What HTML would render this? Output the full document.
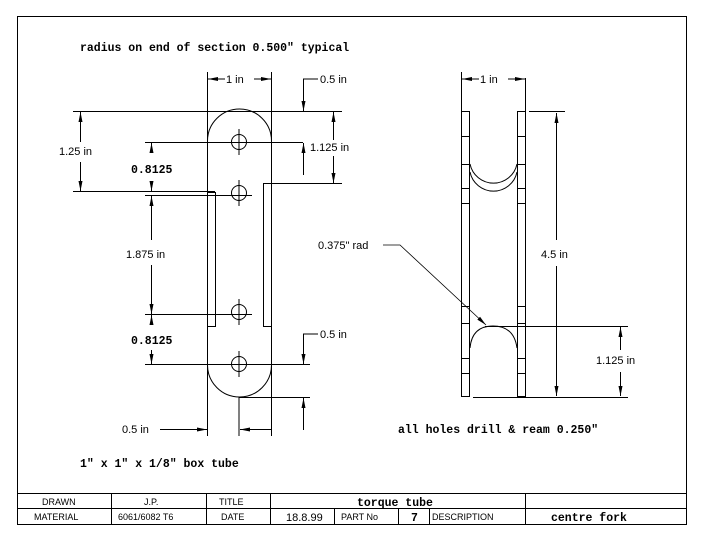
<!DOCTYPE html>
<html><head><meta charset="utf-8"><style>
html,body{margin:0;padding:0;background:#fff;width:701px;height:542px;overflow:hidden}
svg{display:block}
text{font-family:"Liberation Sans",sans-serif;font-size:11px;fill:#000}
.b{font-family:"Liberation Mono",monospace;font-weight:bold;font-size:11.5px}
.s{font-size:9px}
</style></head><body>
<svg width="701" height="542" viewBox="0 0 701 542" xmlns="http://www.w3.org/2000/svg">
<defs>
<marker id="a" viewBox="0 0 10 6" refX="10" refY="3" markerWidth="10" markerHeight="6" orient="auto" markerUnits="userSpaceOnUse"><path d="M0,1 L10,3 L0,5 Z" fill="#000"/></marker>
</defs>
<g stroke="#000" stroke-width="1" fill="none">
<rect x="17.5" y="16.5" width="669" height="508"/>
<!-- title block -->
<line x1="17" y1="493.5" x2="686" y2="493.5"/>
<line x1="17" y1="508.5" x2="686" y2="508.5"/>
<line x1="111.5" y1="493" x2="111.5" y2="524"/>
<line x1="206.5" y1="493" x2="206.5" y2="524"/>
<line x1="270.5" y1="493" x2="270.5" y2="524"/>
<line x1="525.5" y1="493" x2="525.5" y2="524"/>
<line x1="334.5" y1="508" x2="334.5" y2="524"/>
<line x1="398.5" y1="508" x2="398.5" y2="524"/>
<line x1="429.5" y1="508" x2="429.5" y2="524"/>

<!-- LEFT PART -->
<path d="M207.5,397 L207.5,141 A32,32 0 0 1 271.5,141 L271.5,365 A32,32 0 0 1 207.5,365"/>
<rect x="207.5" y="192.5" width="8" height="134"/>
<rect x="263.5" y="183.5" width="8" height="143"/>
<circle cx="239" cy="142" r="7.5"/><circle cx="239" cy="193" r="7.5"/>
<circle cx="239" cy="312" r="7.5"/><circle cx="239" cy="364" r="7.5"/>
<line x1="239" y1="129" x2="239" y2="155"/><line x1="239" y1="180" x2="239" y2="206"/>
<line x1="239" y1="299" x2="239" y2="325"/><line x1="239" y1="351" x2="239" y2="377"/>
<line x1="239" y1="397" x2="239" y2="436"/>
<!-- extension lines -->
<line x1="207.5" y1="72" x2="207.5" y2="436"/>
<line x1="271.5" y1="72" x2="271.5" y2="436"/>
<line x1="73" y1="111.5" x2="342" y2="111.5"/>
<line x1="73" y1="191.5" x2="215" y2="191.5"/>
<line x1="263" y1="183.5" x2="342" y2="183.5"/>
<line x1="145" y1="142.5" x2="303" y2="142.5"/>
<line x1="145" y1="195.5" x2="252" y2="195.5"/>
<line x1="145" y1="314.5" x2="252" y2="314.5"/>
<line x1="145" y1="364.5" x2="310" y2="364.5"/>
<line x1="239" y1="397.5" x2="310" y2="397.5"/>
<!-- 1 in top -->
<line x1="225" y1="79" x2="208" y2="79" marker-end="url(#a)"/>
<line x1="254" y1="79" x2="271" y2="79" marker-end="url(#a)"/>
<!-- 1.25 in -->
<line x1="80.5" y1="142" x2="80.5" y2="112" marker-end="url(#a)"/>
<line x1="80.5" y1="162" x2="80.5" y2="191" marker-end="url(#a)"/>
<!-- 0.8125 upper -->
<line x1="151.5" y1="152" x2="151.5" y2="143" marker-end="url(#a)"/>
<line x1="151.5" y1="182" x2="151.5" y2="191" marker-end="url(#a)"/>
<!-- 1.875 -->
<line x1="151.5" y1="240" x2="151.5" y2="196" marker-end="url(#a)"/>
<line x1="151.5" y1="265" x2="151.5" y2="314" marker-end="url(#a)"/>
<!-- 0.8125 lower -->
<line x1="151.5" y1="324" x2="151.5" y2="315" marker-end="url(#a)"/>
<line x1="151.5" y1="350" x2="151.5" y2="364" marker-end="url(#a)"/>
<!-- 0.5 in top right -->
<polyline points="318,79 303.5,79 303.5,111" marker-end="url(#a)"/>
<line x1="303.5" y1="175" x2="303.5" y2="143" marker-end="url(#a)"/>
<!-- 1.125 -->
<line x1="333.5" y1="140" x2="333.5" y2="112" marker-end="url(#a)"/>
<line x1="333.5" y1="156" x2="333.5" y2="183" marker-end="url(#a)"/>
<!-- 0.5 bottom right -->
<polyline points="318,334 303.5,334 303.5,364" marker-end="url(#a)"/>
<line x1="303.5" y1="430" x2="303.5" y2="398" marker-end="url(#a)"/>
<!-- 0.5 bottom -->
<line x1="160" y1="429.5" x2="207" y2="429.5" marker-end="url(#a)"/>
<line x1="272" y1="429.5" x2="240" y2="429.5" marker-end="url(#a)"/>

<!-- RIGHT PART -->
<rect x="461.5" y="111.5" width="8" height="285"/>
<rect x="517.5" y="111.5" width="8" height="285"/>
<g>
<line x1="461" y1="136.5" x2="469" y2="136.5"/><line x1="517" y1="136.5" x2="525" y2="136.5"/>
<line x1="461" y1="164.5" x2="469" y2="164.5"/><line x1="517" y1="164.5" x2="525" y2="164.5"/>
<line x1="461" y1="188.5" x2="469" y2="188.5"/><line x1="517" y1="188.5" x2="525" y2="188.5"/>
<line x1="461" y1="203.5" x2="469" y2="203.5"/><line x1="517" y1="203.5" x2="525" y2="203.5"/>
<line x1="461" y1="306.5" x2="469" y2="306.5"/><line x1="517" y1="306.5" x2="525" y2="306.5"/>
<line x1="461" y1="323.5" x2="469" y2="323.5"/><line x1="517" y1="323.5" x2="525" y2="323.5"/>
<line x1="461" y1="358.5" x2="469" y2="358.5"/><line x1="517" y1="358.5" x2="525" y2="358.5"/>
<line x1="461" y1="373.5" x2="469" y2="373.5"/><line x1="517" y1="373.5" x2="525" y2="373.5"/>
</g>
<path d="M470,164 A24,24 0 0 0 517,164"/>
<path d="M470,172 A24,24 0 0 0 517,172" transform="translate(0,0)"/>
<path d="M470,348 Q472,326 493,326 Q514,326 517,348"/>
<line x1="525.5" y1="78" x2="525.5" y2="112"/>
<line x1="461.5" y1="72" x2="461.5" y2="112"/>
<line x1="529" y1="111.5" x2="565" y2="111.5"/>
<line x1="485" y1="326.5" x2="628" y2="326.5"/>
<line x1="473" y1="397.5" x2="628" y2="397.5"/>
<line x1="479" y1="79" x2="462" y2="79" marker-end="url(#a)"/>
<line x1="508" y1="79" x2="525" y2="79" marker-end="url(#a)"/>
<line x1="556.5" y1="240" x2="556.5" y2="113" marker-end="url(#a)"/>
<line x1="556.5" y1="266" x2="556.5" y2="396" marker-end="url(#a)"/>
<line x1="620.5" y1="350" x2="620.5" y2="327" marker-end="url(#a)"/>
<line x1="620.5" y1="372" x2="620.5" y2="396" marker-end="url(#a)"/>
<polyline points="383,245 400,245 486,325" marker-end="url(#a)" stroke-width="0.8"/>
</g>

<text x="80" y="51" class="b">radius on end of section 0.500" typical</text>
<text x="226" y="83">1 in</text>
<text x="320" y="83">0.5 in</text>
<text x="59" y="155">1.25 in</text>
<text x="310" y="151">1.125 in</text>
<text x="131" y="173" class="b">0.8125</text>
<text x="126" y="258">1.875 in</text>
<text x="131" y="344" class="b">0.8125</text>
<text x="320" y="338">0.5 in</text>
<text x="122" y="433">0.5 in</text>
<text x="80" y="467" class="b">1" x 1" x 1/8" box tube</text>
<text x="480" y="83">1 in</text>
<text x="318" y="249">0.375" rad</text>
<text x="541" y="258">4.5 in</text>
<text x="596" y="364">1.125 in</text>
<text x="398" y="433" class="b">all holes drill &amp; ream 0.250"</text>

<text x="42" y="505" class="s">DRAWN</text>
<text x="144" y="505" class="s">J.P.</text>
<text x="219" y="505" class="s">TITLE</text>
<text x="357" y="506" class="b">torque tube</text>
<text x="34" y="520" class="s">MATERIAL</text>
<text x="118" y="520" class="s">6061/6082 T6</text>
<text x="221" y="520" class="s">DATE</text>
<text x="286" y="521">18.8.99</text>
<text x="341" y="520" class="s">PART No</text>
<text x="411" y="521" class="b">7</text>
<text x="432" y="520" class="s">DESCRIPTION</text>
<text x="551" y="521" class="b">centre fork</text>
</svg>
</body></html>
